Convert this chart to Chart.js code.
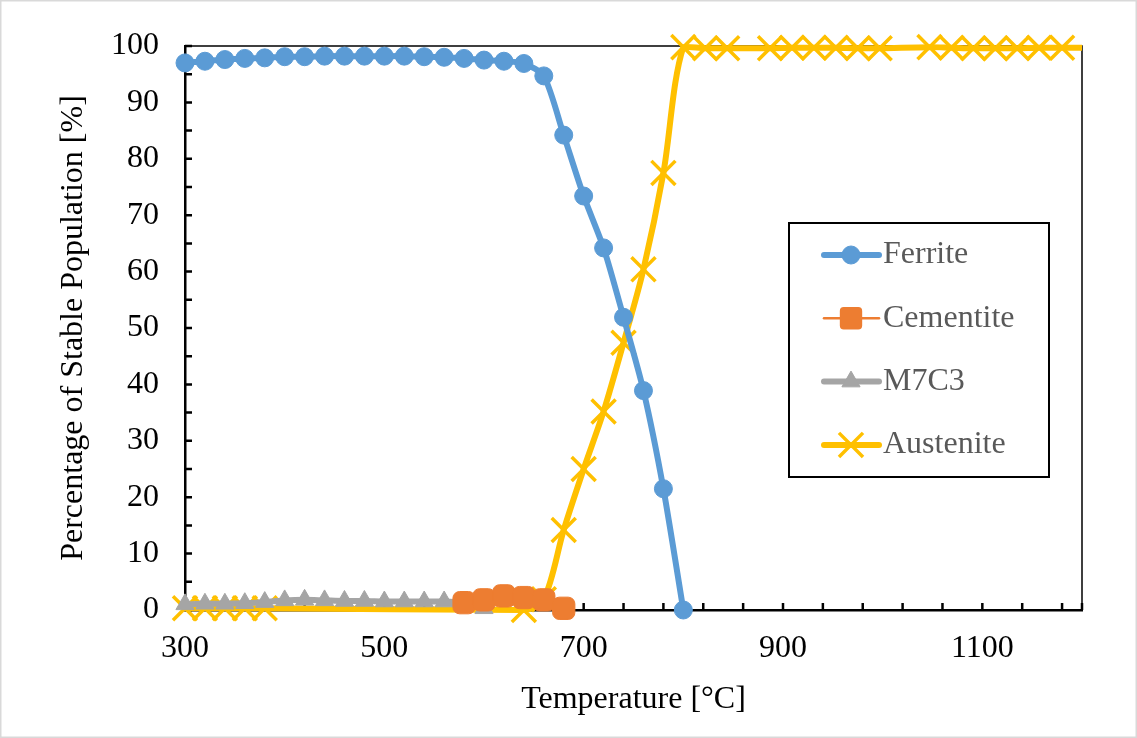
<!DOCTYPE html>
<html><head><meta charset="utf-8">
<script src="https://cdn.jsdelivr.net/npm/chart.js@4.4.0/dist/chart.umd.min.js"></script>
<style>html,body{margin:0;padding:0;background:#fff;}#wrap{width:1137px;height:738px;}</style>
</head><body><div id="wrap"><canvas id="c" width="1137" height="738"></canvas></div>
<script>
// ---- data ----
const ferriteTemp = [300,320,340,360,380,400,420,440,460,480,500,520,540,560,580,600,620,640,660,680,700,720,740,760,780,800];
const ferriteVal  = [97.0,97.3,97.6,97.8,97.9,98.1,98.1,98.2,98.2,98.2,98.2,98.2,98.1,98.0,97.8,97.5,97.3,96.9,94.7,84.2,73.4,64.2,51.9,38.9,21.5,0.0];
const cementiteTemp = [580,600,620,640,660,680];
const cementiteVal  = [1.3,1.8,2.5,2.2,1.8,0.3];
const m7c3Temp = [300,320,340,360,380,400,420,440,460,480,500,520,540,560,580,600];
const m7c3Val  = [1.0,1.1,1.1,1.2,1.4,1.7,1.8,1.7,1.6,1.6,1.5,1.5,1.5,1.5,1.2,0.3];
const austeniteTemp = [300,320,340,360,380,640,660,680,700,720,740,760,780,800,822,844,887,909,931,953,975,997,1047,1069,1091,1113,1135,1157,1180,1222];
const austeniteVal  = [0.3,0.3,0.3,0.3,0.3,0.0,1.9,14.2,25.0,35.2,47.4,60.4,77.5,99.8,99.6,99.6,99.6,99.7,99.7,99.7,99.6,99.6,99.8,99.7,99.6,99.6,99.6,99.7,99.7,99.7];
const seriesNames = ['Ferrite','Cementite','M7C3','Austenite'];
const xTitle = 'Temperature [°C]';
const yTitle = 'Percentage of Stable Population [%]';

const pts = (xs, ys) => xs.map((x, i) => ({x: x, y: ys[i]}));
const FONT = '"Liberation Serif", "Times New Roman", serif';
const FS = 32;

function marker(ctx, style, r, cx, y) {
  ctx.beginPath();
  if (style === 'circle') { ctx.arc(cx, y, r, 0, Math.PI * 2); ctx.fill(); ctx.stroke(); }
  else if (style === 'rectRounded') {
    const cr = r * 0.3, h = r * 0.86;
    ctx.moveTo(cx - h + cr, y - h); ctx.arcTo(cx + h, y - h, cx + h, y + h, cr); ctx.arcTo(cx + h, y + h, cx - h, y + h, cr);
    ctx.arcTo(cx - h, y + h, cx - h, y - h, cr); ctx.arcTo(cx - h, y - h, cx + h, y - h, cr); ctx.closePath(); ctx.fill();
  }
  else if (style === 'triangle') { ctx.moveTo(cx, y - r); ctx.lineTo(cx + r * 0.866, y + r / 2); ctx.lineTo(cx - r * 0.866, y + r / 2); ctx.closePath(); ctx.fill(); ctx.stroke(); }
  else { const s = r * Math.SQRT1_2; ctx.moveTo(cx - s, y - s); ctx.lineTo(cx + s, y + s); ctx.moveTo(cx + s, y - s); ctx.lineTo(cx - s, y + s); ctx.stroke(); }
}

const bgPlugin = {
  id: 'bg',
  beforeDraw(chart) {
    const ctx = chart.ctx;
    ctx.save();
    ctx.fillStyle = '#fff';
    ctx.fillRect(0, 0, chart.width, chart.height);
    ctx.strokeStyle = '#d9d9d9';
    ctx.lineWidth = 1.5;
    ctx.strokeRect(0.75, 0.75, chart.width - 1.5, chart.height - 1.5);
    ctx.restore();
  },
  beforeDatasetsDraw(chart) {
    const ctx = chart.ctx, a = chart.chartArea;
    const xs = chart.scales.x, ys = chart.scales.y;
    ctx.save();
    ctx.strokeStyle = '#000';
    ctx.lineWidth = 1.5;
    ctx.beginPath();
    ctx.moveTo(a.left, a.top); ctx.lineTo(a.right, a.top); ctx.lineTo(a.right, a.bottom);
    ctx.stroke();
    ctx.lineWidth = 2.5;
    ctx.beginPath();
    ys.ticks.forEach(t => { const p = ys.getPixelForValue(t.value); ctx.moveTo(a.left, p); ctx.lineTo(a.left + 7, p); });
    xs.ticks.forEach(t => { const p = xs.getPixelForValue(t.value); ctx.moveTo(p, a.bottom); ctx.lineTo(p, a.bottom - 7); });
    ctx.stroke();
    ctx.restore();
  },
  afterDraw(chart) {
    const ctx = chart.ctx;
    ctx.save();
    ctx.strokeStyle = '#000';
    ctx.lineWidth = 2;
    ctx.strokeRect(789, 223, 260, 254);
    chart.data.datasets.forEach((ds, i) => {
      const y = 255 + i * 63.3;
      ctx.strokeStyle = ds.borderColor;
      ctx.lineWidth = ds.borderWidth;
      ctx.lineCap = 'round';
      ctx.beginPath(); ctx.moveTo(824, y); ctx.lineTo(879, y); ctx.stroke();
      ctx.fillStyle = ds.pointBackgroundColor;
      ctx.strokeStyle = ds.pointBorderColor;
      ctx.lineWidth = ds.pointBorderWidth;
      ctx.lineCap = 'butt';
      marker(ctx, ds.pointStyle, ds.pointRadius, 851, y);
      ctx.fillStyle = '#595959';
      ctx.font = FS + 'px ' + FONT;
      ctx.textBaseline = 'middle';
      ctx.textAlign = 'left';
      ctx.fillText(seriesNames[i], 883, y);
    });
    ctx.restore();
  }
};

const ds = (label, data, color, width, style, radius, pbw, tension, clip) => ({
  label, data, borderColor: color, backgroundColor: color, borderWidth: width,
  pointStyle: style, pointRadius: radius, pointHoverRadius: radius,
  pointBackgroundColor: color, pointBorderColor: color, pointBorderWidth: pbw,
  tension, showLine: true, clip, borderCapStyle: 'round', borderJoinStyle: 'round'
});

new Chart(document.getElementById('c'), {
  type: 'scatter',
  data: {
    datasets: [
      ds(seriesNames[0], pts(ferriteTemp, ferriteVal), '#5B9BD5', 6, 'circle', 9, 1, 0.25, false),
      ds(seriesNames[1], pts(cementiteTemp, cementiteVal), '#ED7D31', 2.5, 'rectRounded', 13, 1, 0.3, false),
      ds(seriesNames[2], pts(m7c3Temp, m7c3Val), '#A5A5A5', 6, 'triangle', 10.5, 1, 0.3, false),
      ds(seriesNames[3], pts(austeniteTemp, austeniteVal), '#FFC000', 6, 'crossRot', 17, 3.5, 0.3, {left: 30, top: 30, bottom: 30, right: 0})
    ]
  },
  options: {
    responsive: false, animation: false, devicePixelRatio: 1,
    layout: {padding: {top: 46, right: 55, left: 0, bottom: 0}},
    plugins: {legend: {display: false}, tooltip: {enabled: false}},
    scales: {
      x: {
        type: 'linear', min: 300, max: 1200,
        afterFit(s) { s.height = 128; },
        ticks: {stepSize: 40, autoSkip: false, maxRotation: 0, padding: 19, color: '#000',
          font: {family: FONT, size: FS},
          callback: v => ((v - 300) % 200 === 0 ? String(v) : '')},
        afterBuildTicks(s) { const t = []; for (let v = 300; v <= 1200; v += 40) t.push({value: v}); t.push({value: 1200}); s.ticks = t; },
        grid: {display: true, drawOnChartArea: false, drawTicks: false},
        border: {display: true, color: '#000', width: 2.5},
        title: {display: true, text: xTitle, color: '#000', font: {family: FONT, size: FS}, padding: {top: 0, bottom: 19}}
      },
      y: {
        type: 'linear', min: 0, max: 100,
        afterFit(s) { s.width = 185; },
        ticks: {stepSize: 5, autoSkip: false, padding: 26, color: '#000',
          font: {family: FONT, size: FS},
          callback: v => (v % 10 === 0 ? String(v) : '')},
        grid: {display: true, drawOnChartArea: false, drawTicks: false},
        border: {display: true, color: '#000', width: 2.5},
        title: {display: true, text: yTitle, color: '#000', font: {family: FONT, size: FS}, padding: {top: 54, bottom: 0}}
      }
    }
  },
  plugins: [bgPlugin]
});
</script>
</body></html>
